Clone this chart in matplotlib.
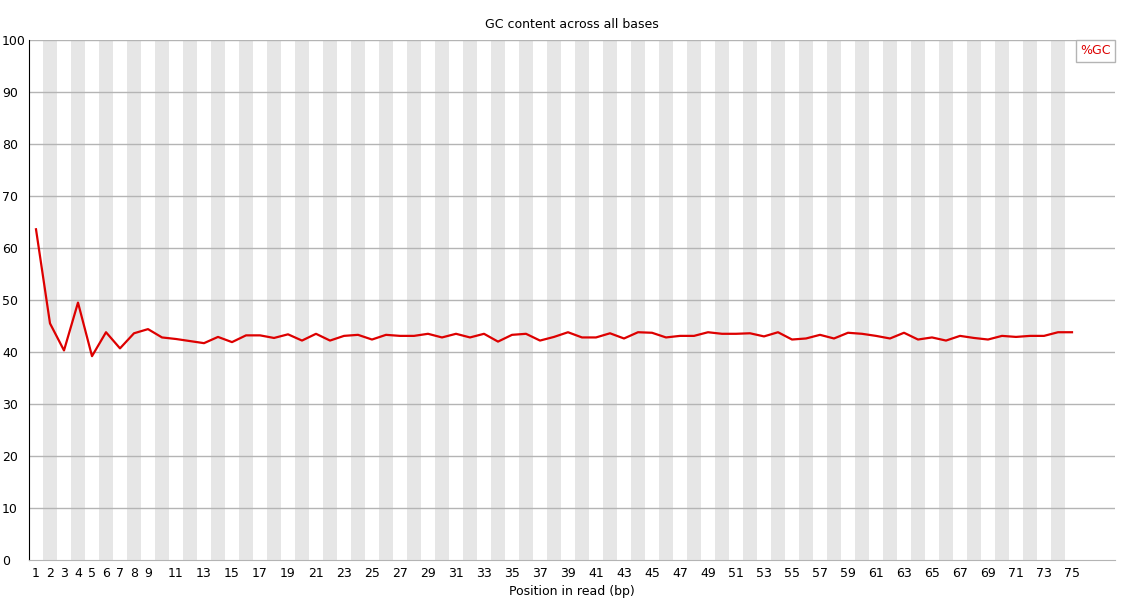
import matplotlib
matplotlib.use("Agg")
import matplotlib.pyplot as plt

# per-base GC content
positions = list(range(1, 76))
gc_pct = [63.6, 45.5, 40.3, 49.5, 39.2, 43.8, 40.7, 43.6, 44.4, 42.8,
          42.5, 42.1, 41.7, 42.9, 41.9, 43.2, 43.2, 42.7, 43.4, 42.2,
          43.5, 42.2, 43.1, 43.3, 42.4, 43.3, 43.1, 43.1, 43.5, 42.8,
          43.5, 42.8, 43.5, 42.0, 43.3, 43.5, 42.2, 42.9, 43.8, 42.8,
          42.8, 43.6, 42.6, 43.8, 43.7, 42.8, 43.1, 43.1, 43.8, 43.5,
          43.5, 43.6, 43.0, 43.8, 42.4, 42.6, 43.3, 42.6, 43.7, 43.5,
          43.1, 42.6, 43.7, 42.4, 42.8, 42.2, 43.1, 42.7, 42.4, 43.1,
          42.9, 43.1, 43.1, 43.8, 43.8]
tick_labels = [str(p) for p in positions if p < 10 or p % 2 == 1]
tick_pos = [p for p in positions if p < 10 or p % 2 == 1]

fig = plt.figure(figsize=(11.25, 6), dpi=100)
ax = fig.add_axes([29 / 1125, 40 / 600, 1086 / 1125, 520 / 600])

# alternating column shading, even positions grey
for p in positions:
    if p % 2 == 0:
        ax.axvspan(p - 0.5, p + 0.5, color="#e6e6e6", lw=0, zorder=0)

for v in range(10, 101, 10):
    ax.axhline(v, color="#b4b4b4", lw=1, zorder=1)

ax.plot(positions, gc_pct, color="#dd0000", lw=1.6, zorder=3)

ax.set_xlim(0.5, 0.5 + 1086 / 14)
ax.set_ylim(0, 100)
ax.set_yticks(range(0, 101, 10))
ax.set_xticks(tick_pos)
ax.set_xticklabels(tick_labels)
ax.tick_params(length=0, labelsize=9, colors="black")
ax.tick_params(axis="x", pad=5)
# y labels are left-aligned at the figure edge in the original
ax.tick_params(axis="y", pad=19.5)
for lab in ax.get_yticklabels():
    lab.set_horizontalalignment("left")

for s in ["top", "right"]:
    ax.spines[s].set_visible(False)
ax.spines["left"].set_color("black")
ax.spines["bottom"].set_color("#b4b4b4")

ax.set_title("GC content across all bases", fontsize=9, pad=9)
ax.set_xlabel("Position in read (bp)", fontsize=9, labelpad=4)

leg = ax.legend(["%GC"], loc="upper right", handlelength=0, handletextpad=0,
                fontsize=9, frameon=True, fancybox=False, borderaxespad=0,
                borderpad=0.35, framealpha=1)
leg.get_frame().set_edgecolor("#b4b4b4")
leg.get_frame().set_linewidth(1)
for t in leg.get_texts():
    t.set_color("#dd0000")
for h in leg.legend_handles:
    h.set_visible(False)

fig.savefig("out.png", dpi=100)
